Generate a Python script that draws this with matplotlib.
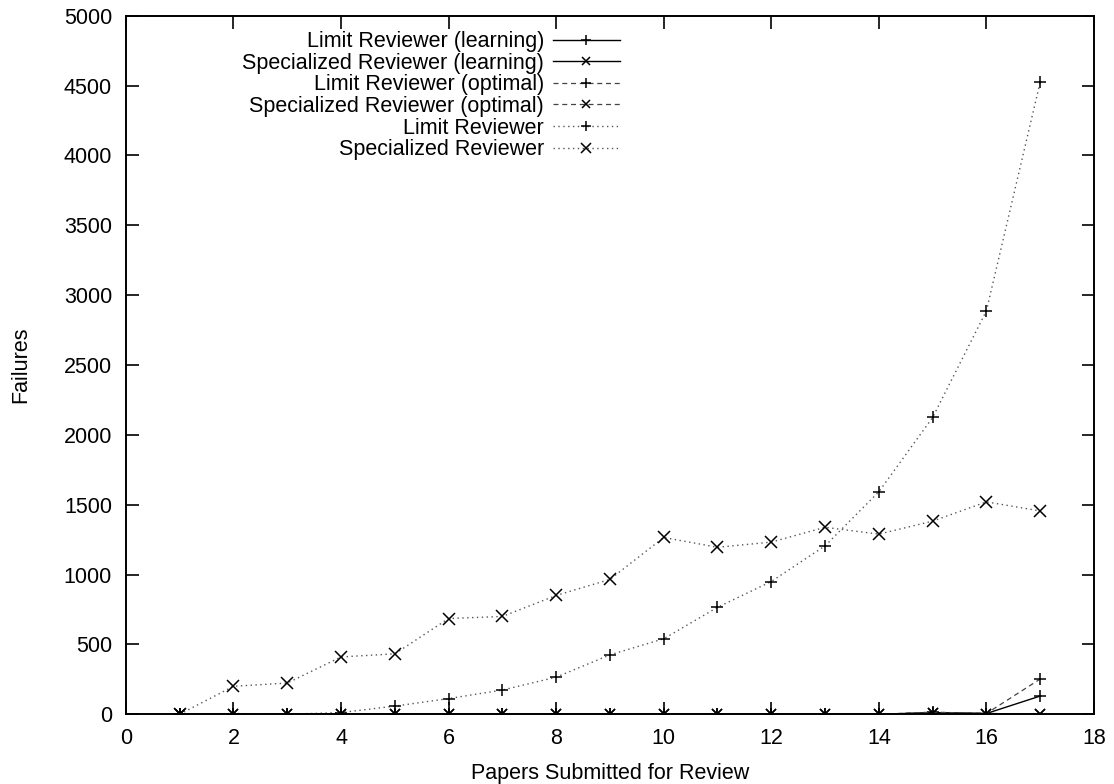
import matplotlib
matplotlib.use("Agg")
import matplotlib.pyplot as plt

plt.rcParams['font.family'] = ['Liberation Sans', 'DejaVu Sans']

papers = list(range(1, 18))

limit_learning = [0, 0, 0, 0, 0, 0, 0, 0, 0, 0, 0, 0, 0, 0, 10, 5, 130]
spec_learning = [0, 0, 0, 0, 0, 0, 0, 0, 0, 0, 0, 0, 0, 0, 10, 5, 0]
limit_optimal = [0, 0, 0, 0, 0, 0, 0, 0, 0, 0, 0, 0, 0, 0, 15, 5, 252]
spec_optimal = [0, 0, 0, 0, 0, 0, 0, 0, 0, 0, 0, 0, 0, 0, 10, 5, 0]
limit_reviewer = [0, 5, 0, 12, 58, 112, 173, 265, 425, 540, 765, 950, 1205, 1592, 2124, 2887, 4525]
spec_reviewer = [0, 200, 223, 410, 432, 685, 700, 850, 965, 1265, 1195, 1232, 1338, 1289, 1382, 1520, 1455]

series_labels = [
    "Limit Reviewer (learning)",
    "Specialized Reviewer (learning)",
    "Limit Reviewer (optimal)",
    "Specialized Reviewer (optimal)",
    "Limit Reviewer",
    "Specialized Reviewer",
]

xticks = list(range(0, 19, 2))
yticks = list(range(0, 5001, 500))

fig = plt.figure(figsize=(11.14, 7.84), dpi=100)
ax = fig.add_axes([0.113, 0.089, 0.869, 0.891])

fs = 15.5
mk = dict(markersize=9, markeredgewidth=1.1, markeredgecolor='black', color='black')

ax.plot(papers, limit_learning, linestyle='-', linewidth=1.0, marker='+', label=series_labels[0], **mk)
ax.plot(papers, spec_learning, linestyle='-', linewidth=1.0, marker='x', label=series_labels[1], **{**mk, 'markersize': 7})
ax.plot(papers, limit_optimal, linestyle=(0, (4, 3)), linewidth=0.9, marker='+', label=series_labels[2], **{**mk, 'color': '#444444'})
ax.plot(papers, spec_optimal, linestyle=(0, (4, 3)), linewidth=0.9, marker='x', label=series_labels[3], **{**mk, 'markersize': 7, 'color': '#444444'})
ax.plot(papers, limit_reviewer, linestyle=(0, (1, 2.5)), linewidth=1.0, marker='+', label=series_labels[4], **{**mk, 'color': '#555555'})
ax.plot(papers, spec_reviewer, linestyle=(0, (1, 2.5)), linewidth=1.0, marker='x', label=series_labels[5], **{**mk, 'color': '#555555'})

ax.set_xlim(0, 18)
ax.set_ylim(0, 5000)
ax.set_xticks(xticks)
ax.set_yticks(yticks)
ax.tick_params(direction='in', length=9, width=1.2, top=True, right=True,
               labelsize=fs, pad=10)
for s in ax.spines.values():
    s.set_linewidth(1.4)

ax.set_xlabel("Papers Submitted for Review", fontsize=fs, labelpad=10)
ax.set_ylabel("Failures", fontsize=fs, labelpad=23)

# legend: labels right-aligned, line samples to the right of them
ax.legend(loc='upper right', bbox_to_anchor=(0.510, 0.978), bbox_transform=ax.transAxes,
          frameon=False, markerfirst=False, fontsize=fs, numpoints=1,
          handlelength=3.1, handletextpad=0.4, labelspacing=0.03,
          borderaxespad=0.0, borderpad=0.0, markerscale=0.85)

fig.savefig("out.png", dpi=100)
